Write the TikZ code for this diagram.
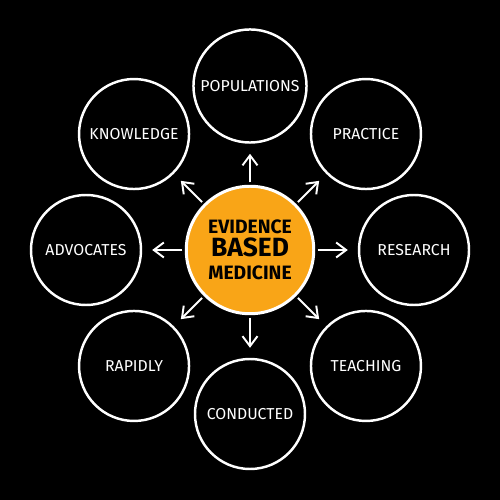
\documentclass[tikz,border=0pt]{standalone}
\usepackage{fontspec}
\setmainfont{Fira Sans}
\usepackage{tikz}
\usetikzlibrary{arrows.meta,positioning}

\definecolor{ebmorange}{HTML}{F9A517}

\begin{document}
\begin{tikzpicture}[>={Straight Barb[length=2mm,width=3mm]},shorten >=0.2cm,shorten <=0.05cm,node distance=3.28cm,
    topic/.style={circle,draw=white,line width=1.4pt,minimum size=2.2cm,text=white,font=\fontsize{9}{11}\selectfont},
    hub/.style={circle,draw=white,line width=1.7pt,fill=ebmorange,minimum size=2.55cm,align=center,font=\bfseries},
    spoke/.style={->,draw=white,line width=1.1pt}]
  \fill[black] (-5,-5) rectangle (5,5);
  \useasboundingbox (-5,-5) rectangle (5,5);

  \node[hub]   (ebm) at (0,0) {\fontsize{11}{13}\selectfont EVIDENCE\\[1pt]
                               \fontsize{15}{17}\selectfont BASED\\[1pt]
                               \fontsize{11}{13}\selectfont MEDICINE};
  \node[topic] (pop) [above of=ebm]       {POPULATIONS};
  \node[topic] (pra) [above right of=ebm] {PRACTICE};
  \node[topic] (res) [right of=ebm]       {RESEARCH};
  \node[topic] (tea) [below right of=ebm] {TEACHING};
  \node[topic] (con) [below of=ebm]       {CONDUCTED};
  \node[topic] (rap) [below left of=ebm]  {RAPIDLY};
  \node[topic] (adv) [left of=ebm]        {ADVOCATES};
  \node[topic] (kno) [above left of=ebm]  {KNOWLEDGE};

  \path[spoke]
       (ebm) edge (pop)
       (ebm) edge (pra)
       (ebm) edge (res)
       (ebm) edge (tea)
       (ebm) edge (con)
       (ebm) edge (rap)
       (ebm) edge (adv)
       (ebm) edge (kno);
\end{tikzpicture}
\end{document}
